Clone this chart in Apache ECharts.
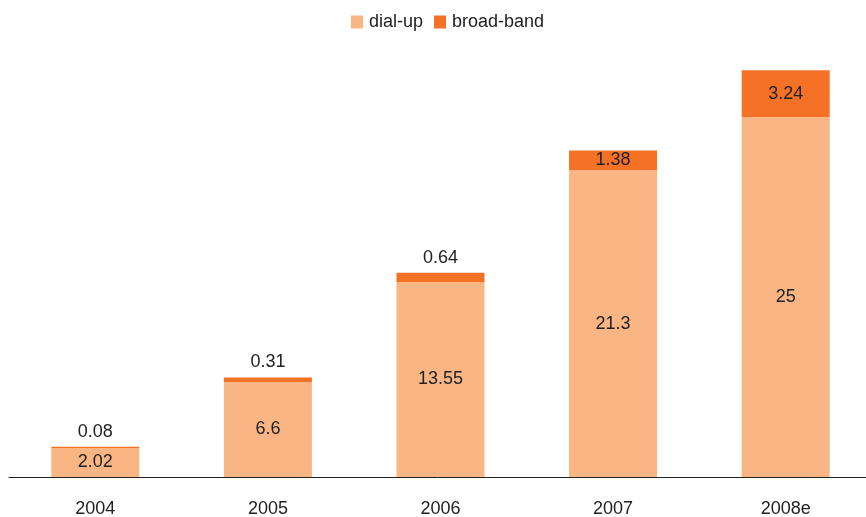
<!DOCTYPE html>
<html><head><meta charset="utf-8">
<script src="https://cdn.jsdelivr.net/npm/echarts@6/dist/echarts.min.js"></script>
<style>html,body{margin:0;padding:0;background:#fff}#c{width:866px;height:517px}</style>
</head><body><div id="c"></div>
<script>
const categories = ['2004','2005','2006','2007','2008e'];
const dialUp = [2.02, 6.6, 13.55, 21.3, 25];
const broadBand = [0.08, 0.31, 0.64, 1.38, 3.24];
const labelOutsideBelow = 1; // broadband values below this get label on top

const chart = echarts.init(document.getElementById('c'));
const FF = 'Liberation Sans, Arial, sans-serif';
const font = {fontFamily:FF, fontSize:18, color:'#222'};
chart.setOption({
  animation:false,
  textStyle:{fontFamily:FF},
  legend:{top:8, left:346, itemWidth:12, itemHeight:13, itemGap:11,
    icon:'rect', textStyle:{fontSize:18, color:'#222', fontFamily:FF, padding:[0,0,0,1]},
    data:['dial-up','broad-band']},
  grid:{left:9, width:863, top:45, bottom:40, containLabel:false, outerBoundsMode:'none'},
  xAxis:{type:'category', data:categories,
    axisLine:{lineStyle:{color:'#222', width:1}}, axisTick:{show:false},
    axisLabel:{...font, margin:23}},
  yAxis:{type:'value', min:0, max:30, show:false, splitLine:{show:false}},
  series:[
    {name:'dial-up', type:'bar', stack:'a', barWidth:'51%', data:dialUp,
      itemStyle:{color:'#FAB584'},
      label:{show:true, position:'inside', ...font}},
    {name:'broad-band', type:'bar', stack:'a', barWidth:'51%',
      data:broadBand.map(v=>({value:v, label:{position: v<labelOutsideBelow?'top':'inside', distance:6}})),
      itemStyle:{color:'#F47125'},
      label:{show:true, ...font}}
  ]
});
</script></body></html>
